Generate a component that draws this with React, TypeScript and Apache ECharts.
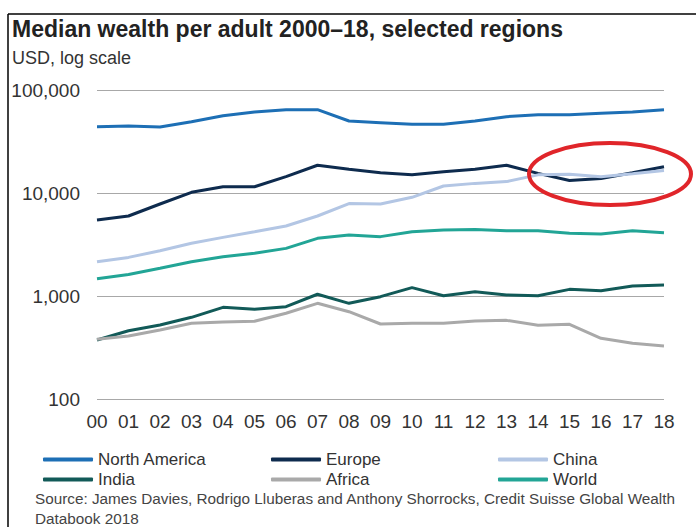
import React, { useEffect, useRef } from "react";
import * as echarts from "echarts";

const years = ["00","01","02","03","04","05","06","07","08","09","10","11","12","13","14","15","16","17","18"];
const northAmerica = [44000,44700,43700,49200,56300,61100,64400,64400,50000,48200,46500,46500,50000,55100,57500,57500,59400,61100,64400];
const europe = [5470,5980,7820,10160,11500,11500,14400,18600,17000,15700,15000,16100,17000,18600,15500,13200,13800,15700,18000];
const china = [2150,2370,2750,3250,3710,4210,4780,5980,7900,7820,9080,11700,12400,12900,15000,15200,14400,15400,16500];
const india = [374,460,523,621,776,743,787,1040,849,985,1205,1007,1100,1025,1007,1160,1125,1250,1280];
const africa = [380,409,468,543,560,568,680,849,704,535,543,543,572,580,519,531,388,347,327];
const world = [1470,1620,1860,2150,2410,2600,2900,3630,3910,3770,4210,4370,4430,4310,4290,4060,4000,4310,4120];

const seriesDefs = [
  { name: "North America", data: northAmerica, color: "#1d6fb5" },
  { name: "Europe", data: europe, color: "#0e2b4e" },
  { name: "China", data: china, color: "#b3c6e4" },
  { name: "India", data: india, color: "#125a58" },
  { name: "Africa", data: africa, color: "#a9a9a9" },
  { name: "World", data: world, color: "#22a596" },
];

const FONT = "'Liberation Sans', Arial, sans-serif";

export default function App() {
  const ref = useRef<HTMLDivElement>(null);
  useEffect(() => {
    if (!ref.current) return;
    const chart = echarts.init(ref.current, undefined, { renderer: "svg" });
    const legendBase = {
      orient: "vertical" as const,
      itemWidth: 50,
      itemHeight: 4,
      itemGap: 3,
      icon: "roundRect",
      textStyle: { fontFamily: FONT, fontSize: 17, color: "#333", lineHeight: 17 },
    };
    chart.setOption({
      animation: false,
      backgroundColor: "#fff",
      title: [
        {
          text: "Median wealth per adult 2000–18, selected regions",
          left: 7,
          top: 12,
          textStyle: { fontFamily: FONT, fontSize: 23, fontWeight: "bold", color: "#222" },
        },
        {
          text: "USD, log scale",
          left: 7,
          top: 44,
          textStyle: { fontFamily: FONT, fontSize: 18, fontWeight: "normal", color: "#333" },
        },
        {
          text: "Source: James Davies, Rodrigo Lluberas and Anthony Shorrocks, Credit Suisse Global Wealth\nDatabook 2018",
          left: 30,
          top: 483,
          textStyle: { fontFamily: FONT, fontSize: 15.3, fontWeight: "normal", color: "#444", lineHeight: 20 },
        },
      ],
      grid: { left: 97, right: 32, top: 90, bottom: 128 },
      xAxis: {
        type: "category",
        data: years,
        boundaryGap: false,
        axisLine: { show: false },
        axisTick: { show: false },
        axisLabel: { fontFamily: FONT, fontSize: 19, color: "#333", margin: 13 },
      },
      yAxis: {
        type: "log",
        logBase: 10,
        min: 100,
        max: 100000,
        axisLine: { show: false },
        axisTick: { show: false },
        splitLine: { lineStyle: { color: "#a8a8a8", width: 1 } },
        axisLabel: {
          fontFamily: FONT,
          fontSize: 19,
          color: "#333",
          margin: 17,
          formatter: (v: number) => Math.round(v).toLocaleString("en-US"),
        },
      },
      legend: [
        { ...legendBase, left: 38, top: 446, data: ["North America", "India"] },
        { ...legendBase, left: 266, top: 446, data: ["Europe", "Africa"] },
        { ...legendBase, left: 493, top: 446, data: ["China", "World"] },
      ],
      series: seriesDefs.map((s) => ({
        name: s.name,
        type: "line",
        data: s.data,
        showSymbol: false,
        symbol: "none",
        color: s.color,
        lineStyle: { width: 3, color: s.color },
      })),
      graphic: [
        { type: "line", shape: { x1: 8, y1: 14, x2: 696, y2: 14 }, style: { stroke: "#000", lineWidth: 1.5 } },
        { type: "line", shape: { x1: 8, y1: 14, x2: 8, y2: 527 }, style: { stroke: "#000", lineWidth: 1.5 } },
        {
          type: "ellipse",
          shape: { cx: 610, cy: 174, rx: 81, ry: 31 },
          style: { fill: "none", stroke: "#e0252a", lineWidth: 4 },
          z: 100,
        },
      ],
    });
    return () => chart.dispose();
  }, []);
  return <div ref={ref} style={{ position: "fixed", left: 0, top: 0, width: 696, height: 527 }} />;
}
